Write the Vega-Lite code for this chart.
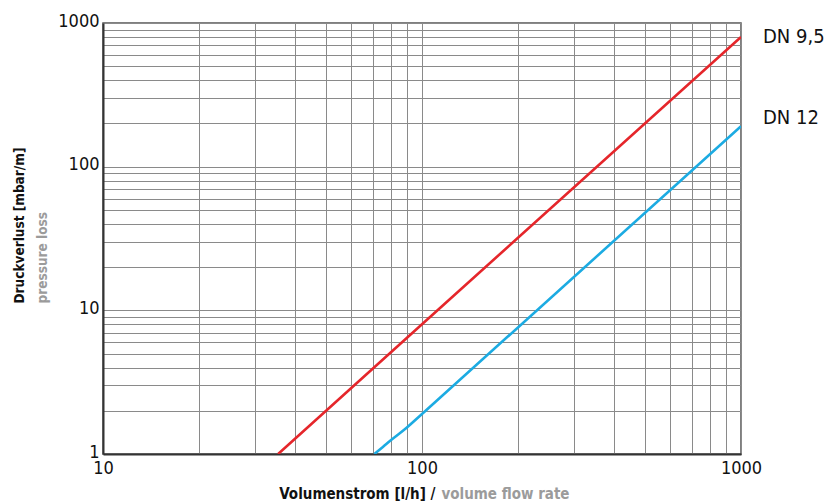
{
  "$schema": "https://vega.github.io/schema/vega-lite/v6.json",
  "width": 638,
  "height": 431,
  "autosize": "none",
  "padding": {"left": 103, "top": 23, "right": 88, "bottom": 48},
  "background": "white",
  "config": {
    "font": "DejaVu Sans Condensed, Liberation Sans Narrow, Roboto, sans-serif",
    "view": {"stroke": "#555", "strokeWidth": 1.5}
  },
  "data": {
    "values": [
      {"series": "DN 9,5", "flow": 35.4, "loss": 1},
      {"series": "DN 9,5", "flow": 100, "loss": 8},
      {"series": "DN 9,5", "flow": 1000, "loss": 800},
      {"series": "DN 12", "flow": 70.9, "loss": 1},
      {"series": "DN 12", "flow": 75.4, "loss": 1.12},
      {"series": "DN 12", "flow": 80, "loss": 1.25},
      {"series": "DN 12", "flow": 89.1, "loss": 1.51},
      {"series": "DN 12", "flow": 100, "loss": 1.9},
      {"series": "DN 12", "flow": 1000, "loss": 191}
    ]
  },
  "layer": [
    {
      "mark": {"type": "line", "strokeWidth": 2.6, "clip": true, "interpolate": "monotone"},
      "encoding": {
        "x": {
          "field": "flow", "type": "quantitative",
          "scale": {"type": "log", "domain": [10, 1000], "nice": false},
          "axis": {
            "orient": "bottom",
            "values": [10, 20, 30, 40, 50, 60, 70, 80, 90, 100, 200, 300, 400, 500, 600, 700, 800, 900, 1000],
            "labelExpr": "datum.value == 10 || datum.value == 100 || datum.value == 1000 ? datum.label : ''",
            "format": "d",
            "grid": true, "gridColor": "#8a8a8a", "gridWidth": 1, "gridOpacity": 1,
            "ticks": false,
            "domain": true, "domainColor": "#333", "domainWidth": 2,
            "labelFontSize": 18, "labelColor": "#111", "labelPadding": 5, "labelBaseline": "top", "labelFlush": false,
            "title": "Volumenstrom [l/h] /",
            "titleFontSize": 15, "titleFontWeight": "bold", "titleColor": "#111",
            "titleAlign": "right", "titleAnchor": null, "titleX": 332, "titleY": 44, "titleBaseline": "alphabetic"
          }
        },
        "y": {
          "field": "loss", "type": "quantitative",
          "scale": {"type": "log", "domain": [1, 1000], "nice": false},
          "axis": {
            "orient": "left",
            "values": [1, 2, 3, 4, 5, 6, 7, 8, 9, 10, 20, 30, 40, 50, 60, 70, 80, 90, 100, 200, 300, 400, 500, 600, 700, 800, 900, 1000],
            "labelExpr": "datum.value == 1 || datum.value == 10 || datum.value == 100 || datum.value == 1000 ? datum.label : ''",
            "format": "d",
            "grid": true, "gridColor": "#8a8a8a", "gridWidth": 1, "gridOpacity": 1,
            "ticks": false,
            "domain": true, "domainColor": "#333", "domainWidth": 2,
            "labelFontSize": 18, "labelColor": "#111", "labelPadding": 4, "labelBaseline": "middle", "labelOffset": -2, "labelFlush": false,
            "title": "Druckverlust [mbar/m]",
            "titleFontSize": 13.5, "titleFontWeight": "bold", "titleColor": "#111",
            "titleAngle": -90, "titleAlign": "left", "titleAnchor": null, "titleBaseline": "middle",
            "titleX": -84, "titleY": 280
          }
        },
        "color": {
          "field": "series", "type": "nominal",
          "scale": {"domain": ["DN 9,5", "DN 12"], "range": ["#e5262b", "#1cabe2"]},
          "legend": null
        }
      }
    },
    {
      "transform": [{"filter": "datum.flow == 1000 && datum.series == 'DN 9,5'"}],
      "mark": {"type": "text", "align": "left", "baseline": "middle", "dx": 22, "fontSize": 20, "color": "#111"},
      "encoding": {
        "x": {"field": "flow", "type": "quantitative", "scale": {"type": "log", "domain": [10, 1000], "nice": false}, "axis": null},
        "y": {"field": "loss", "type": "quantitative", "scale": {"type": "log", "domain": [1, 1000], "nice": false}, "axis": null},
        "text": {"field": "series"}
      }
    },
    {
      "transform": [{"filter": "datum.flow == 1000 && datum.series == 'DN 12'"}],
      "mark": {"type": "text", "align": "left", "baseline": "middle", "dx": 22, "dy": -8, "fontSize": 20, "color": "#111"},
      "encoding": {
        "x": {"field": "flow", "type": "quantitative", "scale": {"type": "log", "domain": [10, 1000], "nice": false}, "axis": null},
        "y": {"field": "loss", "type": "quantitative", "scale": {"type": "log", "domain": [1, 1000], "nice": false}, "axis": null},
        "text": {"field": "series"}
      }
    },
    {
      "mark": {"type": "line", "strokeOpacity": 0},
      "encoding": {
        "x": {
          "field": "flow", "type": "quantitative",
          "scale": {"type": "log", "domain": [10, 1000], "nice": false},
          "axis": {
            "orient": "bottom", "labels": false, "ticks": false, "domain": false, "grid": false,
            "title": "volume flow rate",
            "titleFontSize": 15, "titleFontWeight": "bold", "titleColor": "#9b9b9b",
            "titleAlign": "left", "titleAnchor": null, "titleX": 338, "titleY": 44, "titleBaseline": "alphabetic"
          }
        },
        "y": {
          "field": "loss", "type": "quantitative",
          "scale": {"type": "log", "domain": [1, 1000], "nice": false},
          "axis": {
            "orient": "left", "labels": false, "ticks": false, "domain": false, "grid": false,
            "title": "pressure loss",
            "titleFontSize": 13.5, "titleFontWeight": "bold", "titleColor": "#9b9b9b",
            "titleAngle": -90, "titleAlign": "left", "titleAnchor": null, "titleBaseline": "middle",
            "titleX": -61, "titleY": 280
          }
        },
        "detail": {"field": "series"}
      }
    }
  ],
  "resolve": {"axis": {"x": "independent", "y": "independent"}}
}
